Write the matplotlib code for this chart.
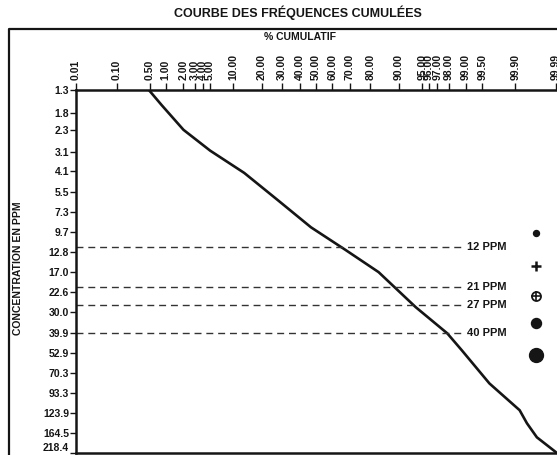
from statistics import NormalDist

import numpy as np
import matplotlib
matplotlib.use('Agg')
import matplotlib.pyplot as plt
from matplotlib.lines import Line2D

# axis ticks
pct_ticks = [0.01, 0.10, 0.50, 1.00, 2.00, 3.00, 4.00, 5.00, 10.00, 20.00, 30.00, 40.00,
             50.00, 60.00, 70.00, 80.00, 90.00, 95.00, 96.00, 97.00, 98.00, 99.00,
             99.50, 99.90, 99.99]
conc_ticks = [1.3, 1.8, 2.3, 3.1, 4.1, 5.5, 7.3, 9.7, 12.8, 17.0, 22.6, 30.0, 39.9,
              52.9, 70.3, 93.3, 123.9, 164.5, 218.4]

# cumulative frequency curve (% cumulative vs concentration in ppm)
curve_pct = [0.48, 0.84, 2.0, 5.05, 13.3, 27.6, 46.9, 67.5, 83.4, 93.9,
             97.9, 98.8, 99.64, 99.92, 99.946, 99.969, 99.990]
curve_conc = [1.3, 1.61, 2.28, 3.06, 4.19, 6.14, 9.03, 12.4, 17.0, 27.9,
              40.3, 51.1, 81.8, 119.4, 143.5, 175, 216]

# threshold lines
seuils = [12, 21, 27, 40]
seuil_labels = ['12 PPM', '21 PPM', '27 PPM', '40 PPM']

nd = NormalDist()
_ppf = np.vectorize(nd.inv_cdf, otypes=[float])
_cdf = np.vectorize(nd.cdf, otypes=[float])


def fwd(p):
    p = np.clip(np.asarray(p, dtype=float) / 100.0, 1e-9, 1 - 1e-9)
    return _ppf(p)


def inv(z):
    return _cdf(np.asarray(z, dtype=float)) * 100.0


ink = '#151515'
fam = ['Liberation Sans Narrow', 'Liberation Sans', 'DejaVu Sans']
plt.rcParams['font.family'] = fam
plt.rcParams['font.weight'] = 'bold'

fig = plt.figure(figsize=(5.57, 4.55), dpi=100)
ax = fig.add_axes([76 / 557, 2 / 455, 484 / 557, 363 / 455])

ax.set_xscale('function', functions=(fwd, inv))
ax.set_yscale('log')
ax.set_xlim(0.01, 99.9922)
ax.set_ylim(218.4, 1.3)

ax.plot(curve_pct, curve_conc, color=ink, lw=1.9, solid_capstyle='round',
        solid_joinstyle='round')

ax.hlines(seuils, 0.01, 98.83, colors='#333333', lw=1.0, linestyles=(0, (5, 3.5)))
for v, lab in zip(seuils, seuil_labels):
    ax.text(99.04, v, lab, ha='left', va='center', fontsize=8, color=ink)

# symbols on the right
mx = 0.95
ax.plot(mx, 0.606, 'o', ms=4.3, color=ink, transform=ax.transAxes, clip_on=False)
ax.plot(mx, 0.515, '+', ms=6.5, mew=1.8, color=ink, transform=ax.transAxes, clip_on=False)
ax.plot(mx, 0.433, 'o', ms=6.5, mfc='white', mec=ink, mew=1.3, transform=ax.transAxes, clip_on=False)
ax.plot(mx, 0.433, '+', ms=6.5, mew=1.2, color=ink, transform=ax.transAxes, clip_on=False)
ax.plot(mx, 0.358, 'o', ms=7.2, color=ink, transform=ax.transAxes, clip_on=False)
ax.plot(mx, 0.270, 'o', ms=10, color=ink, transform=ax.transAxes, clip_on=False)

# x axis on top
ax.xaxis.tick_top()
ax.set_xticks(pct_ticks)
ax.set_xticklabels([f'{p:.2f}' for p in pct_ticks])
ax.xaxis.set_minor_locator(matplotlib.ticker.NullLocator())
ax.tick_params(axis='x', which='major', top=True, bottom=False, length=5, width=1,
               labelrotation=90, labelsize=7.5, pad=2, colors=ink)

ax.set_yticks(conc_ticks)
ax.set_yticklabels([f'{c:.1f}' for c in conc_ticks])
ax.yaxis.set_minor_locator(matplotlib.ticker.NullLocator())
ax.tick_params(axis='y', which='major', length=4, width=1, labelsize=7.5, pad=1, colors=ink)
ax.get_yticklabels()[-1].set_va('bottom')

for side in ['top', 'left', 'bottom']:
    ax.spines[side].set_linewidth(1.8)
    ax.spines[side].set_color(ink)
ax.spines['right'].set_visible(False)

# outer frame
fig.add_artist(Line2D([9 / 557, 9 / 557, 1.01], [-0.01, 1 - 29 / 455, 1 - 29 / 455],
                      transform=fig.transFigure, color=ink, lw=1.6))

fig.text(0.535, 1 - 13 / 455, 'COURBE DES FRÉQUENCES CUMULÉES', ha='center', va='center',
         fontsize=9, color=ink)
fig.text(0.539, 1 - 37 / 455, '% CUMULATIF', ha='center', va='center', fontsize=7.5, color=ink)
fig.text(0.032, 1 - 268 / 455, 'CONCENTRATION EN PPM', rotation=90, ha='center', va='center',
         fontsize=7.5, color=ink)

fig.savefig('out.png', dpi=100)
